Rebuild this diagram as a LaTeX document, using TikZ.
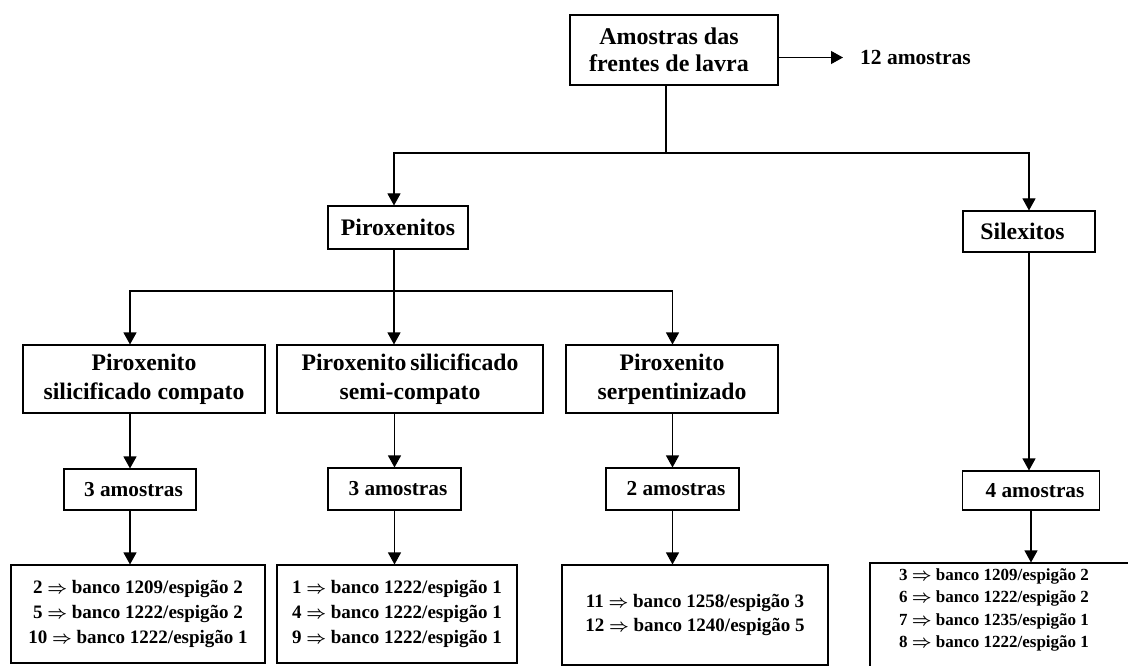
\documentclass[tikz,border=0pt]{standalone}
\usepackage{fontspec}
\setmainfont{Liberation Serif}
\usetikzlibrary{arrows.meta}
\newcommand{\dra}{\mbox{\boldmath$\Rightarrow$}}
\tikzset{
  box/.style={draw, line width=1.1pt, inner sep=0pt, align=center, rectangle},
  arr/.style={-{Triangle[length=12pt,width=13pt]}, line width=1.1pt},
  ln/.style={line width=1.1pt},
  ftop/.style={font=\fontsize{24}{27}\selectfont\bfseries},
  fmid/.style={font=\fontsize{23.7}{29}\selectfont\bfseries},
  fam/.style={font=\fontsize{21.3}{25}\selectfont\bfseries},
  flist/.style={font=\fontsize{19}{24.6}\selectfont\bfseries},
  fsmall/.style={font=\fontsize{17}{22.6}\selectfont\bfseries},
}
\begin{document}
\begin{tikzpicture}[x=1pt,y=-1pt]
\fill[white] (0,0) rectangle (1128,666);
\useasboundingbox (0,0) rectangle (1128,666);
\begin{scope}
\clip (0,0) rectangle (1128,666);
% top level
\node[box, ftop, minimum width=208pt, minimum height=70pt] (top) at (674,50) {Amostras das\hspace*{10pt}\\frentes de lavra\hspace*{10pt}};
\node[font=\fontsize{21.5}{25}\selectfont\bfseries, inner sep=0pt, anchor=west] (n12) at (860,57.5) {12 amostras};
\draw[arr, shorten >=17pt] (top.east |- n12.west) -- (n12.west);
% second level
\node[box, fmid, minimum width=140pt, minimum height=43pt] (pir) at (398,227.5) {Piroxenitos};
\node[box, fmid, minimum width=132pt, minimum height=41pt] (sil) at (1029,231.5) {Silexitos\hspace*{13pt}};
% third level
\node[box, fmid, minimum width=242pt, minimum height=68pt] (b1) at (144,379) {Piroxenito\\silicificado compato};
\node[box, fmid, minimum width=266pt, minimum height=68pt] (b2) at (410,379) {Piroxenito\,silicificado\\semi-compato};
\node[box, fmid, minimum width=212pt, minimum height=68pt] (b3) at (672,379) {Piroxenito\\serpentinizado};
% amostras level
\node[box, fam, minimum width=132pt, minimum height=41pt] (a1) at (130,489.5) {\hspace*{7pt}3 amostras};
\node[box, fam, minimum width=133pt, minimum height=42pt] (a2) at (394.5,489) {\hspace*{7pt}3 amostras};
\node[box, fam, minimum width=133pt, minimum height=42pt] (a3) at (672.5,489) {\hspace*{7pt}2 amostras};
\node[box, fam, minimum width=137pt, minimum height=39pt] (a4) at (1031,490.5) {\hspace*{8pt}4 amostras};
% bottom lists
\node[box, flist, minimum width=254pt, minimum height=98pt] (c1) at (138,614) {2 \dra{} banco 1209/espigão 2\\5 \dra{} banco 1222/espigão 2\\10 \dra{} banco 1222/espigão 1};
\node[box, flist, minimum width=240pt, minimum height=98pt] (c2) at (397,614) {1 \dra{} banco 1222/espigão 1\\4 \dra{} banco 1222/espigão 1\\9 \dra{} banco 1222/espigão 1};
\node[box, flist, minimum width=266pt, minimum height=100pt] (c3) at (695,615) {11 \dra{} banco 1258/espigão 3\\12 \dra{} banco 1240/espigão 5};
\node[box, minimum width=265pt, minimum height=130pt] (c4) at (1002.5,628) {};
\node[fsmall, inner sep=0pt, align=center] (c4t) at (994,610) {3 \dra{} banco 1209/espigão 2\\6 \dra{} banco 1222/espigão 2\\7 \dra{} banco 1235/espigão 1\\8 \dra{} banco 1222/espigão 1};
% connectors
\coordinate (h1) at (666,153);
\coordinate (cP) at (394,153);
\coordinate (h2) at (394,291);
\draw[ln] (top.south -| h1) -- (h1);
\draw[arr] (h1) -- (cP) -- (cP |- pir.north);
\draw[arr] (h1) -| (sil.north);
\draw[ln] (pir.south -| h2) -- (h2);
\draw[arr] (h2) -| (a1 |- b1.north);
\draw[arr] (h2) -- (h2 |- b2.north);
\draw[arr] (h2) -| (a3 |- b3.north);
\draw[arr] (a1 |- b1.south) -- (a1.north);
\draw[arr] (a2 |- b2.south) -- (a2.north);
\draw[arr] (a3 |- b3.south) -- (a3.north);
\draw[arr] (sil.south) -- (sil.south |- a4.north);
\draw[arr] (a1.south) -- (a1.south |- c1.north);
\draw[arr] (a2.south) -- (a2.south |- c2.north);
\draw[arr] (a3.south) -- (a3.south |- c3.north);
\draw[arr] (a4.south) -- (a4.south |- c4.north);
\end{scope}
\end{tikzpicture}
\end{document}
